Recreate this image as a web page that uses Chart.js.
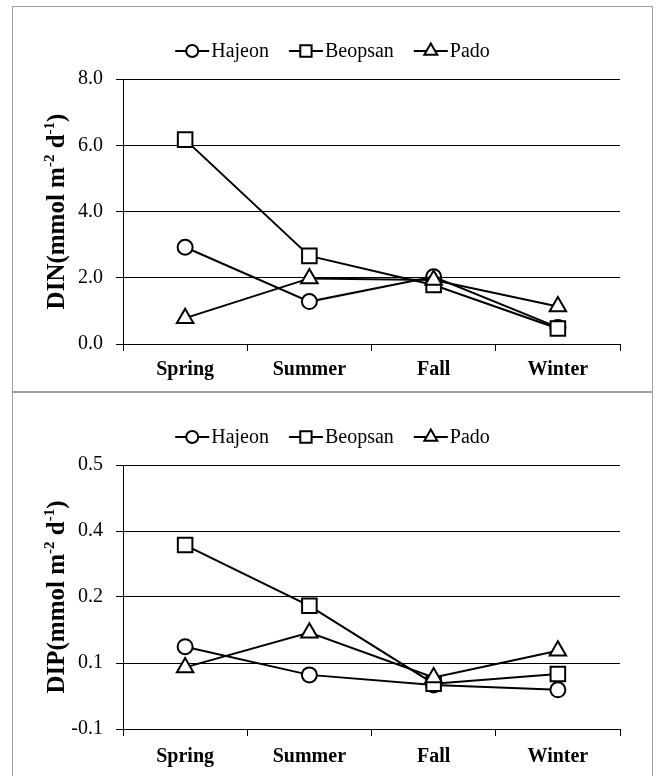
<!DOCTYPE html>
<html><head><meta charset="utf-8">
<script src="https://cdn.jsdelivr.net/npm/chart.js@4"></script>
<style>
html,body{margin:0;padding:0;background:#fff;width:656px;height:776px;overflow:hidden;}
.panel{position:absolute;left:12px;width:639px;border:1px solid #a0a0a0;background:#fff;}
#p1{top:6px;height:384px;}
#p2{top:392px;height:400px;}
canvas{display:block;}
</style></head><body>
<div class="panel" id="p1"><canvas id="c1" width="639" height="384"></canvas></div>
<div class="panel" id="p2"><canvas id="c2" width="639" height="383"></canvas></div>
<script>
const seasons = ['Spring', 'Summer', 'Fall', 'Winter'];
const siteNames = ['Hajeon', 'Beopsan', 'Pado'];
const siteMarkers = ['circle', 'rect', 'triangle'];

const dinHajeon  = [2.92, 1.28, 2.03, 0.50];
const dinBeopsan = [6.17, 2.66, 1.78, 0.47];
const dinPado    = [0.78, 1.98, 1.93, 1.13];

const dipHajeon  = [0.087, 0.023, 0.000, -0.011];
const dipBeopsan = [0.318, 0.180, 0.003, 0.025];
const dipPado    = [0.040, 0.119, 0.017, 0.078];

const dinTickValues = [0, 2, 4, 6, 8];
const dinTickLabels = ['0.0', '2.0', '4.0', '6.0', '8.0'];
const dipTickValues = [-0.1, 0.05, 0.2, 0.35, 0.5];
const dipTickLabels = ['-0.1', '0.1', '0.2', '0.4', '0.5'];

const dinTitle = [['DIN(mmol m', false], ['-2', true], [' d', false], ['-1', true], [')', false]];
const dipTitle = [['DIP(mmol m', false], ['-2', true], [' d', false], ['-1', true], [')', false]];

const SERIF = "'Liberation Serif', 'Times New Roman', serif";
const markerRadius = {circle: 7.5, rect: 10.3, triangle: 9.5};
const legendRadius = {circle: 6, rect: 8, triangle: 7.5};
const drawOrder = [3, 2, 1];

function drawMarker(ctx, style, x, y, r) {
  ctx.beginPath();
  if (style === 'circle') {
    ctx.arc(x, y, r, 0, Math.PI * 2);
  } else if (style === 'rect') {
    const s = r * Math.SQRT1_2;
    ctx.rect(x - s, y - s, 2 * s, 2 * s);
  } else {
    ctx.moveTo(x, y - r);
    ctx.lineTo(x + r * 0.866, y + r / 2);
    ctx.lineTo(x - r * 0.866, y + r / 2);
    ctx.closePath();
  }
  ctx.fillStyle = '#fff';
  ctx.fill();
  ctx.stroke();
}

const decorPlugin = {
  id: 'decor',
  afterDraw(chart, args, opts) {
    const ctx = chart.ctx;
    const ca = chart.chartArea;
    ctx.save();
    // legend
    ctx.font = '20px ' + SERIF;
    ctx.textBaseline = 'middle';
    ctx.textAlign = 'left';
    const lineLen = 34, gapText = 2, itemGap = 20;
    const widths = siteNames.map(n => lineLen + gapText + ctx.measureText(n).width);
    const total = widths.reduce((a, b) => a + b, 0) + itemGap * (siteNames.length - 1);
    let x = chart.width / 2 - total / 2;
    const ly = opts.legendY;
    ctx.strokeStyle = '#000';
    ctx.lineWidth = 2;
    siteNames.forEach((n, i) => {
      ctx.beginPath();
      ctx.moveTo(x, ly);
      ctx.lineTo(x + lineLen, ly);
      ctx.stroke();
      drawMarker(ctx, siteMarkers[i], x + lineLen / 2, ly, legendRadius[siteMarkers[i]]);
      ctx.fillStyle = '#000';
      ctx.fillText(n, x + lineLen + gapText, ly + 1);
      x += widths[i] + itemGap;
    });
    // y title
    const parts = opts.title;
    const bigF = 'bold 25px ' + SERIF, supF = 'bold 15px ' + SERIF;
    let tw = 0;
    parts.forEach(p => { ctx.font = p[1] ? supF : bigF; tw += ctx.measureText(p[0]).width; });
    ctx.translate(opts.titleX, (ca.top + ca.bottom) / 2);
    ctx.rotate(-Math.PI / 2);
    ctx.textBaseline = 'alphabetic';
    ctx.fillStyle = '#000';
    let px = -tw / 2;
    parts.forEach(p => {
      ctx.font = p[1] ? supF : bigF;
      ctx.fillText(p[0], px, p[1] ? -1 : 9);
      px += ctx.measureText(p[0]).width;
    });
    ctx.restore();
  }
};

function makeChart(id, series, yMin, yMax, tickValues, tickLabels, title, xPad) {
  const datasets = siteNames.map((name, i) => ({
    label: name,
    data: series[i],
    order: drawOrder[i],
    borderColor: '#000',
    borderWidth: 2,
    pointStyle: siteMarkers[i],
    pointRadius: markerRadius[siteMarkers[i]],
    pointBorderWidth: 2,
    pointBorderColor: '#000',
    pointBackgroundColor: '#fff',
    tension: 0,
    fill: false
  }));
  return new Chart(document.getElementById(id), {
    type: 'line',
    data: {labels: seasons, datasets},
    options: {
      responsive: false,
      devicePixelRatio: 1,
      animation: false,
      events: [],
      layout: {padding: {left: 0, right: 32, top: 72, bottom: 0}},
      plugins: {
        legend: {display: false},
        tooltip: {enabled: false},
        decor: {legendY: 44, titleX: 42, title}
      },
      scales: {
        x: {
          type: 'category',
          offset: true,
          grid: {offset: true, drawOnChartArea: false, drawTicks: true, tickLength: 7, color: '#000', lineWidth: 1},
          border: {display: true, color: '#000', width: 1},
          ticks: {color: '#000', font: {family: SERIF, size: 20, weight: 'bold'}, padding: xPad, maxRotation: 0},
          afterFit(s) { s.height = 47; }
        },
        y: {
          type: 'linear',
          min: yMin,
          max: yMax,
          afterBuildTicks(s) { s.ticks = tickValues.map(v => ({value: v})); },
          grid: {drawOnChartArea: true, drawTicks: true, tickLength: 7, color: '#000', lineWidth: 1},
          border: {display: true, color: '#000', width: 1},
          ticks: {color: '#000', font: {family: SERIF, size: 20}, padding: 13,
                  callback: (v, i) => tickLabels[i]},
          afterFit(s) { s.width = 110; }
        }
      }
    },
    plugins: [decorPlugin]
  });
}

makeChart('c1', [dinHajeon, dinBeopsan, dinPado], 0, 8, dinTickValues, dinTickLabels, dinTitle, 7);
makeChart('c2', [dipHajeon, dipBeopsan, dipPado], -0.1, 0.5, dipTickValues, dipTickLabels, dipTitle, 9);
</script>
</body></html>
